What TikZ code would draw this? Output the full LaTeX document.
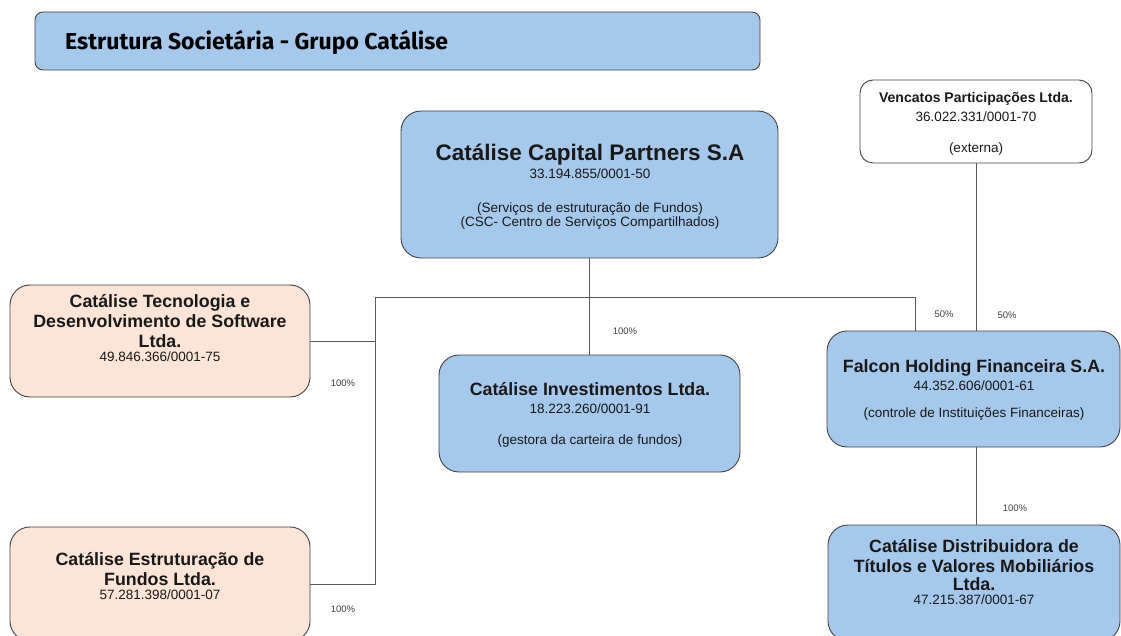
\documentclass[tikz,border=0pt]{standalone}
\usepackage{fontspec}
\setmainfont{Liberation Sans}
\newfontfamily\headfont{Fira Sans}
\usetikzlibrary{positioning}
\definecolor{boxblue}{RGB}{166,200,235}
\definecolor{boxpeach}{RGB}{252,229,214}
\definecolor{boxline}{RGB}{65,65,65}
\definecolor{linkgray}{RGB}{90,90,90}
\newcommand{\bigfirm}{\fontsize{22.5}{23}\selectfont\bfseries}
\newcommand{\firmname}{\fontsize{17.8}{18}\selectfont\bfseries}
\newcommand{\extname}{\fontsize{14}{14}\selectfont\bfseries}
\tikzset{
  firm/.style={draw=boxline, line width=0.9pt, rounded corners=20pt, fill=boxblue, inner sep=0pt},
  sidefirm/.style={firm, fill=boxpeach},
  extfirm/.style={firm, fill=white, rounded corners=13pt},
  firmtext/.style={align=center, inner sep=0pt, anchor=base, text=black!90,
    font=\fontsize{13.5}{13}\selectfont, execute at begin node={\lineskiplimit=-100pt}},
  link/.style={draw=linkgray, line width=0.9pt},
  pct/.style={inner sep=0pt, font=\fontsize{9.5}{10}\selectfont, text=black!75}
}
\begin{document}
\begin{tikzpicture}[x=1pt,y=-1pt]
\useasboundingbox (0,0) rectangle (1121,636);
\clip (0,0) rectangle (1121,636);
%the heading
    \node[firm, rounded corners=8pt, minimum width=725, minimum height=58] (head) at (397.5,41) {};
    \node[inner sep=0pt, anchor=west] (headtxt) at (65,42)
      {\headfont\fontsize{23}{24}\selectfont\bfseries Estrutura Societária - Grupo Catálise};

%the boxes
    \node[firm, minimum width=377, minimum height=147] (cap) at (589.5,184.5) {};
    \node[extfirm, minimum width=232, minimum height=83] (ven) at (976,121.5) {};
    \node[sidefirm, minimum width=300, minimum height=112] (soft) at (160,341) {};
    \node[sidefirm, minimum width=300, minimum height=114] (fund) at (160,584) {};
    \node[firm, minimum width=301, minimum height=117] (inv) at (589.5,413.5) {};
    \node[firm, minimum width=293, minimum height=116] (fal) at (973.5,389) {};
    \node[firm, minimum width=292, minimum height=116] (dist) at (974,583) {};

%the texts (placed at the baseline of their last line)
    \node[firmtext] (captxt) at (590,227)
      {{\bigfirm Catálise Capital Partners S.A}\\[5pt]33.194.855/0001-50\\[21pt]
       (Serviços de estruturação de Fundos)\\[1pt](CSC- Centro de Serviços Compartilhados)};
    \node[firmtext] (ventxt) at (976,153)
      {{\extname Vencatos Participações Ltda.}\\[6pt]36.022.331/0001-70\\[18pt](externa)};
    \node[firmtext] (softtxt) at (160,361)
      {{\firmname Catálise Tecnologia e}\\[7pt]{\firmname Desenvolvimento de Software}\\[7pt]
       {\firmname Ltda.}\\[1pt]49.846.366/0001-75};
    \node[firmtext] (fundtxt) at (160,599)
      {{\firmname Catálise Estruturação de}\\[7pt]{\firmname Fundos Ltda.}\\[1pt]57.281.398/0001-07};
    \node[firmtext] (invtxt) at (590,444)
      {{\firmname Catálise Investimentos Ltda.}\\[5pt]18.223.260/0001-91\\[18pt](gestora da carteira de fundos)};
    \node[firmtext] (faltxt) at (974,417)
      {{\firmname Falcon Holding Financeira S.A.}\\[5pt]44.352.606/0001-61\\[14pt](controle de Instituições Financeiras)};
    \node[firmtext] (disttxt) at (974,604)
      {{\firmname Catálise Distribuidora de}\\[7pt]{\firmname Títulos e Valores Mobiliários}\\[5pt]
       {\firmname Ltda.}\\[1pt]47.215.387/0001-67};

%the links
    \coordinate (jl) at (375,297);
    \coordinate (jr) at (915,297);
    \begin{scope}[every path/.style={link}]
       \draw (cap.south) -- (inv.north);
       \draw (jl) -- (jr) -- (jr |- fal.north);
       \draw (soft.east) -- (soft.east -| jl);
       \draw (fund.east) -| (jl);
       \draw (ven.south) -- (ven.south |- fal.north);
       \draw (ven.south |- fal.south) -- (ven.south |- dist.north);
    \end{scope}

%the shares
    \node[pct] (p1) at (625,331) {100\%};
    \node[pct] (p2) at (944,314) {50\%};
    \node[pct] (p3) at (1007,315) {50\%};
    \node[pct] (p4) at (343,383) {100\%};
    \node[pct] (p5) at (343,609) {100\%};
    \node[pct] (p6) at (1015,508) {100\%};
\end{tikzpicture}
\end{document}
